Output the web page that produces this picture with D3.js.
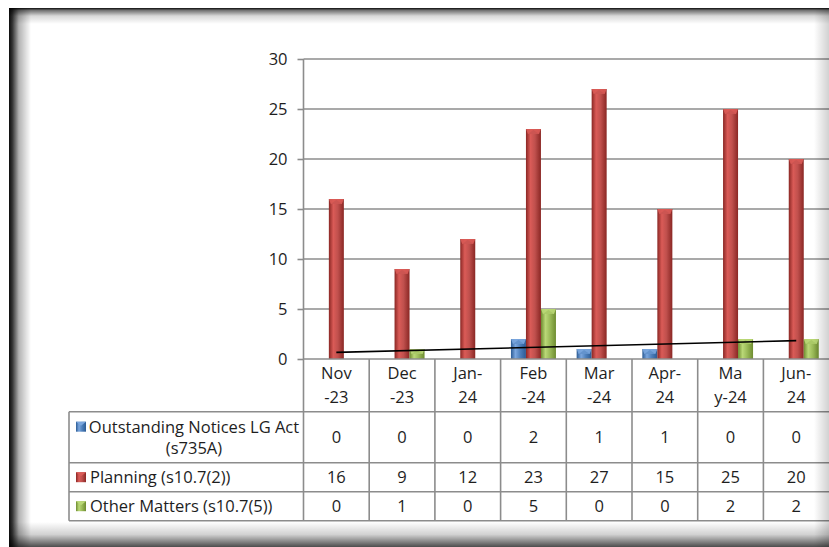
<!DOCTYPE html>
<html>
<head>
<meta charset="utf-8">
<script src="https://cdn.jsdelivr.net/npm/d3@7"></script>
<style>
  html, body { margin: 0; padding: 0; background: #fff; }
  svg { display: block; }
  text { font-family: "Open Sans", sans-serif; fill: #1e1e1e; }
</style>
</head>
<body>
<svg id="chart" width="829" height="547"></svg>
<script>
// Monthly counts per matter type
const categories = ["Nov-23", "Dec-23", "Jan-24", "Feb-24", "Mar-24", "Apr-24", "May-24", "Jun-24"];
const categoryLines = [["Nov", "-23"], ["Dec", "-23"], ["Jan-", "24"], ["Feb", "-24"],
                       ["Mar", "-24"], ["Apr-", "24"], ["Ma", "y-24"], ["Jun-", "24"]];
const seriesNames = ["Outstanding Notices LG Act (s735A)", "Planning (s10.7(2))", "Other Matters (s10.7(5))"];
const seriesLabelLines = [["Outstanding Notices LG Act", "(s735A)"], ["Planning (s10.7(2))"], ["Other Matters (s10.7(5))"]];
const outstandingNotices = [0, 0, 0, 2, 1, 1, 0, 0];
const planning = [16, 9, 12, 23, 27, 15, 25, 20];
const otherMatters = [0, 1, 0, 5, 0, 0, 2, 2];
const yTicks = [0, 5, 10, 15, 20, 25, 30];

const seriesValues = [outstandingNotices, planning, otherMatters];
const palette = [
  { base: "#4F81BD", light: "#7AA6DE", dark: "#2B5B94" },
  { base: "#C0504D", light: "#DA5B57", dark: "#8A2724" },
  { base: "#9BBB59", light: "#BAD877", dark: "#6E8C30" }
];
const fontSize = 16.5;

const svg = d3.select("#chart");
const defs = svg.append("defs");

// bar shading: darker edges, lighter centre
palette.forEach((c, i) => {
  const g = defs.append("linearGradient").attr("id", "bar" + i)
    .attr("x1", 0).attr("x2", 1).attr("y1", 0).attr("y2", 0);
  g.append("stop").attr("offset", 0).attr("stop-color", c.dark);
  g.append("stop").attr("offset", 0.3).attr("stop-color", c.light);
  g.append("stop").attr("offset", 0.6).attr("stop-color", c.base);
  g.append("stop").attr("offset", 1).attr("stop-color", c.dark);
});

const plotLeft = 303.5, plotRight = 829.1;
const y = d3.scaleLinear().domain([0, 30]).range([359, 59]);
const x0 = d3.scaleBand().domain(categories).range([plotLeft, plotRight]).padding(0);
const groupW = 45;
const x1 = d3.scaleBand().domain(seriesNames)
  .range([x0.bandwidth() / 2 - groupW / 2, x0.bandwidth() / 2 + groupW / 2]).padding(0);

const gridColor = "#8c8c8c";

// horizontal gridlines
svg.append("g").selectAll("line").data(yTicks.filter(t => t > 0)).join("line")
  .attr("x1", plotLeft).attr("x2", plotRight)
  .attr("y1", d => y(d)).attr("y2", d => y(d))
  .attr("stroke", gridColor).attr("stroke-width", 1.6);

// value axis
const yAxis = svg.append("g").attr("transform", `translate(${plotLeft},0)`)
  .call(d3.axisLeft(y).tickValues(yTicks).tickSize(6).tickPadding(10).tickSizeOuter(0));
yAxis.select(".domain").remove();
yAxis.selectAll(".tick line").attr("stroke", gridColor).attr("stroke-width", 1.6);
yAxis.selectAll(".tick text").style("font-size", fontSize + "px").style("fill", "#1e1e1e");

// table geometry
const tableLeft = 69;
const rowEdges = [411.7, 462.7, 491.7, 520.7];

// bars
const barGroups = svg.append("g").selectAll("g").data(categories).join("g")
  .attr("transform", d => `translate(${x0(d)},0)`);
seriesNames.forEach((s, si) => {
  barGroups.each(function (cat, ci) {
    const v = seriesValues[si][ci];
    if (v <= 0) return;
    const bx = x1(s), bw = x1.bandwidth(), top = y(v), h = y(0) - y(v);
    const g = d3.select(this);
    g.append("rect").attr("x", bx).attr("y", top).attr("width", bw).attr("height", h)
      .attr("fill", `url(#bar${si})`);
    // bevelled top
    const bev = Math.min(5, h);
    g.append("path")
      .attr("d", `M${bx},${top}L${bx + bw},${top}L${bx + bw - 2},${top + bev}L${bx + 2},${top + bev}Z`)
      .attr("fill", palette[si].light).attr("opacity", 0.9);
    g.append("path")
      .attr("d", `M${bx + 2},${top + bev}L${bx + bw / 2},${top + 1}L${bx + bw - 2},${top + bev}Z`)
      .attr("fill", palette[si].base).attr("opacity", 0.5);
  });
});

// linear trendline for Other Matters
const xs = otherMatters.map((_, i) => i + 1);
const mx = d3.mean(xs), my = d3.mean(otherMatters);
const slope = d3.sum(xs, (xv, i) => (xv - mx) * (otherMatters[i] - my)) / d3.sum(xs, xv => (xv - mx) ** 2);
const icpt = my - slope * mx;
const trendPts = [0, categories.length - 1].map(i => [x0(categories[i]) + x0.bandwidth() / 2, y(icpt + slope * (i + 1))]);
svg.append("path").attr("d", d3.line()(trendPts))
  .attr("stroke", "#000").attr("stroke-width", 1.6).attr("fill", "none");

// axis lines and data table grid
const lines = svg.append("g").attr("stroke", gridColor).attr("stroke-width", 1.6);
lines.append("line").attr("x1", plotLeft).attr("x2", plotLeft).attr("y1", y(30)).attr("y2", rowEdges[3]);
lines.append("line").attr("x1", plotLeft).attr("x2", plotRight).attr("y1", y(0)).attr("y2", y(0));
categories.forEach((c, i) => {
  if (i === 0) return;
  lines.append("line").attr("x1", x0(c)).attr("x2", x0(c)).attr("y1", y(0)).attr("y2", rowEdges[3]);
});
rowEdges.forEach(r => {
  lines.append("line").attr("x1", tableLeft).attr("x2", plotRight).attr("y1", r).attr("y2", r);
});
lines.append("line").attr("x1", tableLeft).attr("x2", tableLeft).attr("y1", rowEdges[0]).attr("y2", rowEdges[3]);

// category header cells
const catG = svg.append("g").selectAll("text").data(categories).join("text")
  .attr("text-anchor", "middle").style("font-size", fontSize + "px")
  .attr("x", d => x0(d) + x0.bandwidth() / 2);
catG.each(function (d, i) {
  const t = d3.select(this);
  categoryLines[i].forEach((ln, k) => {
    t.append("tspan").attr("x", x0(d) + x0.bandwidth() / 2).attr("y", 379 + k * 24).text(ln);
  });
});

// row headers with legend keys
const keyX = 76;
seriesNames.forEach((s, si) => {
  const r0 = rowEdges[si], r1 = rowEdges[si + 1];
  const lns = seriesLabelLines[si];
  const lh = 21;
  const firstY = (r0 + r1) / 2 - (lns.length - 1) * lh / 2;
  lns.forEach((ln, k) => {
    const t = svg.append("text").style("font-size", fontSize + "px").attr("y", firstY + k * lh + 5.8).text(ln);
    if (lns.length > 1) t.attr("text-anchor", "middle").attr("x", 194);
    else t.attr("x", 90);
  });
  svg.append("rect").attr("x", keyX).attr("y", firstY - 5).attr("width", 10).attr("height", 10)
    .attr("fill", `url(#bar${si})`);
  svg.append("path")
    .attr("d", `M${keyX},${firstY - 5}L${keyX + 10},${firstY - 5}L${keyX + 5},${firstY - 1}Z`)
    .attr("fill", palette[si].light);
  // values
  svg.append("g").selectAll("text").data(seriesValues[si]).join("text")
    .attr("text-anchor", "middle").style("font-size", fontSize + "px")
    .attr("x", (d, i) => x0(categories[i]) + x0.bandwidth() / 2)
    .attr("y", (r0 + r1) / 2 + 5.8)
    .text(d => d);
});

// inner shadow frame
function edgeGrad(id, x1v, y1v, x2v, y2v, stops) {
  const g = defs.append("linearGradient").attr("id", id)
    .attr("x1", x1v).attr("y1", y1v).attr("x2", x2v).attr("y2", y2v);
  stops.forEach(([o, a]) => g.append("stop").attr("offset", o).attr("stop-color", "#000").attr("stop-opacity", a));
}
edgeGrad("shL", 0, 0, 1, 0, [[0, 0.95], [0.15, 0.8], [0.45, 0.3], [1, 0]]);
edgeGrad("shT", 0, 0, 0, 1, [[0, 0.95], [0.15, 0.55], [0.5, 0.15], [1, 0]]);
edgeGrad("shB", 0, 0, 0, 1, [[0, 0], [0.5, 0.18], [1, 0.7]]);
edgeGrad("shR", 0, 0, 1, 0, [[0, 0], [1, 0.18]]);
const frame = svg.append("g");
frame.append("rect").attr("x", 9).attr("y", 8).attr("width", 22).attr("height", 539).attr("fill", "url(#shL)");
frame.append("rect").attr("x", 9).attr("y", 8).attr("width", 820).attr("height", 16).attr("fill", "url(#shT)");
frame.append("rect").attr("x", 9).attr("y", 522).attr("width", 820).attr("height", 25).attr("fill", "url(#shB)");
frame.append("rect").attr("x", 814).attr("y", 8).attr("width", 15).attr("height", 539).attr("fill", "url(#shR)");
</script>
</body>
</html>
